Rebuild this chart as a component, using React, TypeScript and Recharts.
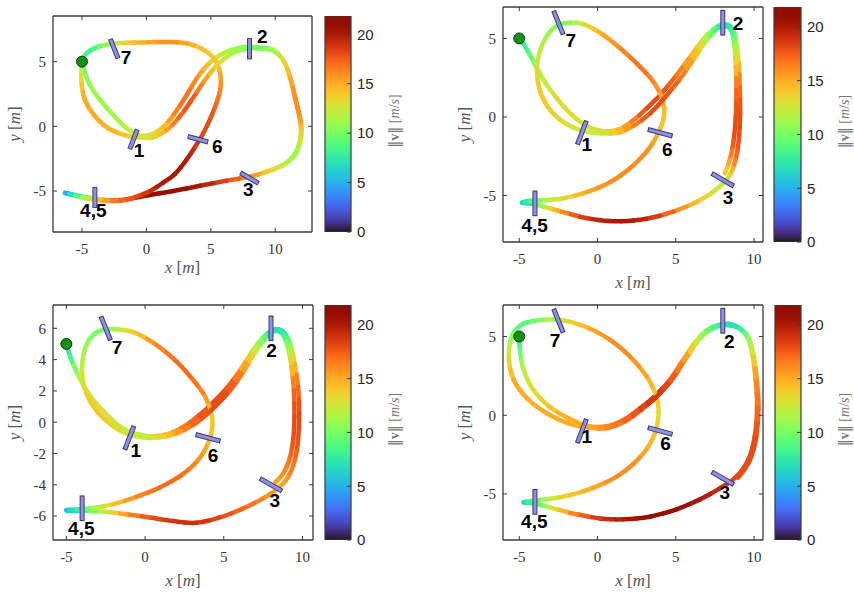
import {
  ComposedChart,
  Line,
  Scatter,
  XAxis,
  YAxis,
  Label,
  BarChart,
  Bar,
} from "recharts";

// x [m], y [m], speed [m/s]
type Pt = [number, number, number];

const V_MAX = 21.85;
const CBAR_TICKS = [0, 5, 10, 15, 20];
const CBAR_DATA = [{ name: "v", v: V_MAX }];

const START: [number, number] = [-5, 5];
const GATE_NAMES = ["1", "2", "3", "4,5", "6", "7"];
const GATE_CENTERS: [number, number][] = [
  [-1, -1],
  [8, 6],
  [8, -4],
  [-4, -5.5],
  [4, -1],
  [-2.5, 6],
];
const GATE_ANGLES = [69, 90, -30, 90, -15, 112];
const GATE_HALF = 0.75;

const X_TICKS = [-5, 0, 5, 10];
const Y_TICKS = [-5, 0, 5];
const Y_TICKS_FINE = [-6, -4, -2, 0, 2, 4, 6];

const TL_LABELS: [number, number][] = [
  [-0.58, -1.88], [8.99, 6.98], [7.9, -4.87], [-4.12, -6.52], [5.5, -1.57], [-1.59, 5.34],
];
const TR_LABELS: [number, number][] = [
  [-0.69, -1.78], [8.98, 5.95], [8.34, -5.11], [-4.02, -6.93], [4.45, -2.1], [-1.71, 4.85],
];
const BL_LABELS: [number, number][] = [
  [-0.59, -1.78], [8.03, 4.61], [8.24, -4.98], [-4.05, -6.79], [4.32, -2.1], [-1.78, 4.78],
];
const BR_LABELS: [number, number][] = [
  [-0.69, -1.36], [8.41, 4.68], [8.13, -4.92], [-4.04, -6.76], [4.35, -1.82], [-2.71, 4.75],
];

const TL_PATH: Pt[] = [
  [-5.03, 5.0, 6], [-4.9, 4.48, 9], [-4.38, 3.2, 11], [-3.6, 2.04, 11], [-2.57, 0.88, 11],
  [-1.53, -0.15, 12], [-0.5, -0.7, 12], [0.4, -0.62, 13], [1.3, -0.05, 14], [2.15, 0.95, 16],
  [3.05, 2.3, 17], [4.0, 3.85, 16], [4.95, 4.95, 14], [6.05, 5.68, 12], [7.1, 6.05, 11],
  [8.0, 6.15, 10], [8.94, 6.08, 10], [9.84, 5.9, 11], [10.62, 5.13, 13], [11.14, 3.84, 15],
  [11.52, 2.29, 16], [11.91, 0.75, 16], [12.04, -0.28, 14], [11.91, -1.31, 12], [11.52, -2.22, 11],
  [10.62, -2.99, 12], [9.33, -3.51, 14], [8.03, -3.89, 16], [6.22, -4.2, 18], [4.15, -4.6, 20],
  [2.09, -5.0, 21], [0.02, -5.35, 21], [-1.6, -5.65, 19], [-2.9, -5.72, 17], [-4.0, -5.58, 13],
  [-5.0, -5.42, 9], [-5.7, -5.28, 6], [-6.32, -5.15, 4], [-5.5, -5.36, 8], [-4.5, -5.6, 12],
  [-3.3, -5.75, 15], [-2.0, -5.75, 17], [-0.8, -5.45, 18], [0.3, -5.0, 19], [1.3, -4.35, 20],
  [2.2, -3.7, 20], [3.1, -2.6, 20], [3.8, -1.55, 19], [4.4, -0.55, 18], [5.0, 0.7, 18],
  [5.5, 2.0, 17], [5.76, 3.1, 16], [5.68, 4.3, 15], [5.2, 5.3, 14], [4.3, 6.0, 14],
  [3.1, 6.42, 15], [1.57, 6.52, 16], [-0.24, 6.49, 15], [-1.53, 6.47, 14], [-2.57, 6.39, 12],
  [-3.6, 6.21, 10], [-4.38, 5.85, 8], [-4.84, 5.39, 8], [-5.03, 4.61, 11], [-5.03, 3.32, 14],
  [-4.77, 2.04, 15], [-4.07, 0.88, 15], [-2.96, -0.15, 15], [-1.41, -0.75, 14], [-0.24, -0.88, 13],
  [0.55, -0.85, 13], [1.55, -0.3, 15], [2.5, 0.65, 17], [3.45, 1.95, 18], [4.45, 3.45, 16],
  [5.35, 4.6, 14], [6.35, 5.45, 12], [7.3, 5.9, 11], [8.15, 6.04, 10], [8.99, 6.0, 10],
  [9.9, 5.82, 11], [10.67, 5.03, 13], [11.16, 3.74, 15], [11.55, 2.19, 16], [11.89, 0.64, 16],
  [11.99, -0.34, 14], [11.84, -1.37, 12], [11.4, -2.29, 11], [10.49, -3.04, 12], [9.2, -3.56, 14],
];

const TR_PATH: Pt[] = [
  [-5, 5, 6], [-4.62, 4.47, 8], [-4.09, 3.52, 10], [-3.45, 2.35, 12], [-2.6, 1.19, 13],
  [-1.64, 0.13, 13], [-0.69, -0.57, 13], [0.27, -0.89, 13], [1.22, -0.83, 14], [2.18, -0.3, 16],
  [3.14, 0.55, 18], [4.09, 1.5, 18], [5.05, 2.67, 17], [6.0, 3.94, 15], [6.75, 4.94, 13],
  [7.39, 5.57, 10], [7.92, 5.87, 8], [8.34, 5.85, 7], [8.66, 5.53, 8], [8.87, 4.68, 11],
  [9.02, 3.41, 14], [9.08, 1.93, 17], [9.11, 0.23, 18], [9.02, -1.46, 18], [8.81, -2.73, 17],
  [8.45, -3.69, 14], [7.92, -4.32, 12], [6.96, -5.06, 13], [5.69, -5.7, 15], [3.99, -6.29, 18],
  [2.29, -6.59, 20], [0.8, -6.63, 20], [-0.69, -6.44, 19], [-1.96, -6.12, 17], [-3.02, -5.83, 14],
  [-3.87, -5.59, 10], [-4.51, -5.49, 7], [-4.83, -5.45, 6], [-4.3, -5.34, 8], [-3.45, -5.3, 11],
  [-2.17, -5.17, 13], [-0.69, -4.79, 15], [0.8, -4.15, 16], [2.07, -3.26, 16], [3.14, -2.2, 16],
  [3.82, -1.14, 15], [4.24, 0.02, 14], [4.16, 1.08, 15], [3.56, 2.25, 16], [2.5, 3.41, 17],
  [1.33, 4.47, 16], [0.16, 5.36, 15], [-0.9, 5.91, 13], [-1.75, 6.0, 11], [-2.49, 5.85, 10],
  [-3.13, 5.32, 11], [-3.66, 4.26, 12], [-3.87, 2.99, 13], [-3.66, 1.61, 14], [-3.02, 0.44, 14],
  [-2.07, -0.4, 13], [-0.9, -0.89, 12], [0.27, -1.04, 12], [1.33, -1.0, 14], [2.29, -0.57, 16],
  [3.35, 0.23, 18], [4.31, 1.25, 18], [5.26, 2.42, 17], [6.18, 3.73, 15], [6.9, 4.79, 12],
  [7.49, 5.49, 9], [7.98, 5.78, 7], [8.38, 5.7, 7], [8.62, 5.32, 8], [8.75, 4.47, 11],
  [8.83, 3.2, 14], [8.87, 1.72, 17], [8.83, 0.02, 18], [8.7, -1.46, 18], [8.45, -2.73, 16],
  [8.13, -3.58, 13],
];

const BL_PATH: Pt[] = [
  [-5, 5.04, 6], [-4.75, 4.19, 8], [-4.26, 3.01, 11], [-3.52, 1.74, 13], [-2.56, 0.61, 13],
  [-1.5, -0.33, 12], [-0.34, -0.8, 12], [0.72, -0.89, 13], [1.78, -0.63, 15], [2.84, -0.03, 17],
  [4.0, 0.95, 18], [5.17, 2.16, 18], [6.12, 3.44, 16], [6.86, 4.61, 13], [7.5, 5.42, 10],
  [8.03, 5.85, 7], [8.45, 5.94, 7], [8.88, 5.68, 7], [9.24, 4.93, 10], [9.51, 3.76, 14],
  [9.72, 2.27, 17], [9.79, 0.56, 18], [9.72, -1.14, 18], [9.51, -2.42, 17], [9.09, -3.49, 16],
  [8.45, -4.23, 15], [7.5, -4.87, 16], [6.23, -5.51, 17], [4.75, -6.09, 18], [3.26, -6.43, 19],
  [1.78, -6.32, 19], [0.3, -6.09, 18], [-1.19, -5.88, 16], [-2.46, -5.73, 13], [-3.73, -5.66, 9],
  [-4.68, -5.66, 6], [-5, -5.62, 5], [-4.36, -5.58, 7], [-3.31, -5.49, 11], [-2.03, -5.24, 14],
  [-0.55, -4.77, 16], [0.93, -4.17, 17], [2.31, -3.38, 17], [3.37, -2.42, 16], [4.0, -1.36, 15],
  [4.28, -0.18, 14], [4.15, 0.78, 14], [3.69, 1.84, 16], [2.84, 2.95, 17], [1.78, 4.08, 17],
  [0.51, 5.08, 16], [-0.66, 5.72, 14], [-1.82, 5.94, 12], [-2.67, 5.89, 10], [-3.31, 5.57, 10],
  [-3.77, 4.83, 11], [-4.0, 3.65, 12], [-3.9, 2.38, 13], [-3.41, 1.2, 14], [-2.56, 0.18, 14],
  [-1.4, -0.63, 13], [-0.13, -0.97, 12], [0.93, -0.97, 13], [1.99, -0.72, 15], [3.05, -0.18, 17],
  [4.22, 0.78, 18], [5.38, 2.01, 18], [6.29, 3.29, 16], [6.97, 4.44, 13], [7.61, 5.3, 10],
  [8.09, 5.77, 7], [8.52, 5.81, 7], [8.81, 5.51, 8], [9.09, 4.72, 11], [9.3, 3.55, 14],
  [9.45, 2.06, 17], [9.49, 0.35, 18], [9.41, -1.14, 18], [9.19, -2.32, 17], [8.77, -3.28, 16],
  [8.24, -3.87, 15],
];

const BR_PATH: Pt[] = [
  [-5, 5, 6], [-4.96, 4.15, 9], [-4.72, 2.88, 12], [-4.13, 1.65, 13], [-3.13, 0.59, 14],
  [-1.86, -0.19, 15], [-0.69, -0.66, 15], [0.48, -0.72, 16], [1.65, -0.3, 17], [2.71, 0.44, 18],
  [3.67, 1.23, 19], [4.62, 2.25, 18], [5.47, 3.52, 16], [6.22, 4.62, 13], [6.96, 5.38, 10],
  [7.7, 5.72, 8], [8.34, 5.81, 7], [8.98, 5.59, 7], [9.55, 5.0, 10], [9.89, 3.83, 13],
  [10.1, 2.25, 16], [10.19, 0.55, 17], [10.04, -1.36, 18], [9.62, -2.84, 18], [8.87, -3.9, 18],
  [7.81, -4.64, 19], [6.54, -5.34, 20], [5.05, -5.97, 21], [3.35, -6.44, 21], [1.65, -6.61, 20],
  [0.16, -6.55, 19], [-1.32, -6.29, 17], [-2.6, -5.97, 14], [-3.66, -5.68, 10], [-4.41, -5.55, 7],
  [-4.72, -5.53, 6], [-4.09, -5.42, 9], [-3.02, -5.3, 12], [-1.75, -5.06, 14], [-0.26, -4.6, 15],
  [1.22, -3.9, 16], [2.39, -2.99, 16], [3.24, -1.99, 15], [3.73, -0.93, 14], [3.9, 0.23, 13],
  [3.73, 1.29, 14], [3.14, 2.46, 15], [2.07, 3.73, 16], [0.8, 4.79, 16], [-0.69, 5.59, 15],
  [-2.17, 6.02, 13], [-3.45, 6.06, 11], [-4.51, 5.89, 9], [-5.19, 5.47, 9], [-5.57, 4.68, 11],
  [-5.66, 3.52, 13], [-5.36, 2.25, 15], [-4.51, 1.08, 15], [-3.24, 0.13, 15], [-1.86, -0.51, 15],
  [-0.58, -0.78, 15], [0.59, -0.81, 16], [1.76, -0.38, 17], [2.78, 0.34, 18], [3.73, 1.14, 19],
  [4.69, 2.16, 18], [5.54, 3.43, 16], [6.28, 4.53, 13], [7.0, 5.32, 10], [7.75, 5.66, 8],
  [8.38, 5.72, 7], [9.04, 5.51, 7], [9.64, 4.92, 10], [9.98, 3.73, 13], [10.19, 2.14, 16],
  [10.28, 0.44, 17], [10.13, -1.4, 18], [9.72, -2.88, 18], [8.98, -3.96, 18],
];

const SERIF = "'Liberation Serif', 'DejaVu Serif', serif";
const SANS = "'Liberation Sans', Arial, sans-serif";

// turbo colormap (polynomial fit)
const turbo = (t: number) => {
  const x = Math.min(1, Math.max(0, t));
  const r = 0.13572138 + x * (4.6153926 + x * (-42.66032258 + x * (132.13108234 + x * (-152.94239396 + x * 59.28637943))));
  const g = 0.09140261 + x * (2.19418839 + x * (4.84296658 + x * (-14.18503333 + x * (4.27729857 + x * 2.82956604))));
  const b = 0.1066733 + x * (12.64194608 + x * (-60.58204836 + x * (110.36276771 + x * (-89.90310912 + x * 27.34824973))));
  const c = (v: number) => Math.round(255 * Math.min(1, Math.max(0, v)));
  return `rgb(${c(r)},${c(g)},${c(b)})`;
};

type XY = [number, number];
const mix = (a: XY, b: XY, t: number): XY => [a[0] + (b[0] - a[0]) * t, a[1] + (b[1] - a[1]) * t];

// Draws one half of the middle span p1 -> p2 of a 4-point window as a
// Catmull-Rom cubic, so neighbouring coloured pieces share tangents.
const makeSpanCurve = (half: 0 | 1) =>
  // eslint-disable-next-line @typescript-eslint/no-explicit-any
  (ctx: any) => {
    let pts: XY[] = [];
    return {
      areaStart() {},
      areaEnd() {},
      lineStart() {
        pts = [];
      },
      point(x: number, y: number) {
        pts.push([x, y]);
      },
      lineEnd() {
        if (pts.length < 4) return;
        const [p0, p1, p2, p3] = pts;
        const c1: XY = [p1[0] + (p2[0] - p0[0]) / 6, p1[1] + (p2[1] - p0[1]) / 6];
        const c2: XY = [p2[0] - (p3[0] - p1[0]) / 6, p2[1] - (p3[1] - p1[1]) / 6];
        // de Casteljau split at t = 0.5
        const a = mix(p1, c1, 0.5);
        const b = mix(c1, c2, 0.5);
        const c = mix(c2, p2, 0.5);
        const d = mix(a, b, 0.5);
        const e = mix(b, c, 0.5);
        const m = mix(d, e, 0.5);
        if (half === 0) {
          ctx.moveTo(p1[0], p1[1]);
          ctx.bezierCurveTo(a[0], a[1], d[0], d[1], m[0], m[1]);
        } else {
          ctx.moveTo(m[0], m[1]);
          ctx.bezierCurveTo(e[0], e[1], c[0], c[1], p2[0], p2[1]);
        }
      },
    };
  };
const FIRST_HALF = makeSpanCurve(0);
const SECOND_HALF = makeSpanCurve(1);

const toSpans = (path: Pt[]) => {
  const at = (k: number) => path[Math.max(0, Math.min(path.length - 1, k))];
  return path.slice(0, -1).flatMap((p, i) => {
    const pts = [at(i - 1), p, at(i + 1), at(i + 2)].map(([x, y]) => ({ x, y }));
    const v0 = p[2];
    const v1 = path[i + 1][2];
    return [
      { pts, curve: FIRST_HALF, color: turbo((0.75 * v0 + 0.25 * v1) / V_MAX) },
      { pts, curve: SECOND_HALF, color: turbo((0.25 * v0 + 0.75 * v1) / V_MAX) },
    ];
  });
};

const gateEnds = (i: number, half: number) => {
  const [cx, cy] = GATE_CENTERS[i];
  const a = (GATE_ANGLES[i] * Math.PI) / 180;
  return [
    { x: cx - half * Math.cos(a), y: cy - half * Math.sin(a) },
    { x: cx + half * Math.cos(a), y: cy + half * Math.sin(a) },
  ];
};

interface Box {
  L: number;
  T: number;
  W: number;
  H: number;
}
interface Plot {
  l: number;
  r: number;
  t: number;
  b: number;
}
interface Panel {
  box: Box;
  plot: Plot;
  xDomain: [number, number];
  yDomain: [number, number];
  yTicks: number[];
  path: Pt[];
  labels: [number, number][];
  xLabelDy: number;
  cbar: { box: Box; plot: Plot };
}

const PANELS: Panel[] = [
  {
    box: { L: 0, T: 0, W: 320, H: 290 },
    plot: { l: 53, r: 312, t: 16, b: 232 },
    xDomain: [-7.25, 12.85],
    yDomain: [-8.17, 8.53],
    yTicks: Y_TICKS,
    path: TL_PATH,
    labels: TL_LABELS,
    xLabelDy: 41,
    cbar: { box: { L: 320, T: 0, W: 100, H: 250 }, plot: { l: 325, r: 351, t: 16, b: 232 } },
  },
  {
    box: { L: 420, T: 0, W: 350, H: 300 },
    plot: { l: 503, r: 763, t: 7, b: 242 },
    xDomain: [-6.04, 10.57],
    yDomain: [-7.96, 7.0],
    yTicks: Y_TICKS,
    path: TR_PATH,
    labels: TR_LABELS,
    xLabelDy: 46,
    cbar: { box: { L: 770, T: 0, W: 84, H: 250 }, plot: { l: 774, r: 801, t: 7, b: 242 } },
  },
  {
    box: { L: 0, T: 295, W: 320, H: 303 },
    plot: { l: 53, r: 313, t: 305, b: 540 },
    xDomain: [-5.85, 10.67],
    yDomain: [-7.53, 7.49],
    yTicks: Y_TICKS_FINE,
    path: BL_PATH,
    labels: BL_LABELS,
    xLabelDy: 46,
    cbar: { box: { L: 320, T: 295, W: 100, H: 255 }, plot: { l: 325, r: 351, t: 305, b: 540 } },
  },
  {
    box: { L: 420, T: 295, W: 350, H: 303 },
    plot: { l: 503, r: 763, t: 305, b: 540 },
    xDomain: [-6.04, 10.57],
    yDomain: [-7.92, 7.0],
    yTicks: Y_TICKS,
    path: BR_PATH,
    labels: BR_LABELS,
    xLabelDy: 46,
    cbar: { box: { L: 770, T: 295, W: 84, H: 255 }, plot: { l: 775, r: 801, t: 305, b: 540 } },
  },
];

const AXIS_STROKE = "#3a3a3a";
const tickStyle = { fill: "#333", fontSize: 15, fontFamily: SERIF };

// eslint-disable-next-line @typescript-eslint/no-explicit-any
const xAxisLabel = (dy: number) => (props: any) => {
  if (!props.viewBox) return null;
  const { x, y, width } = props.viewBox;
  return (
    <text x={x + width / 2} y={y + dy} textAnchor="middle" fill="#555" fontSize={17} fontFamily={SERIF}>
      <tspan fontStyle="italic">x</tspan> [<tspan fontStyle="italic">m</tspan>]
    </text>
  );
};

// eslint-disable-next-line @typescript-eslint/no-explicit-any
const yAxisLabel = (props: any) => {
  if (!props.viewBox) return null;
  const { x, y, width, height } = props.viewBox;
  const cx = x + width - 39;
  const cy = y + height / 2;
  return (
    <text
      x={cx}
      y={cy}
      transform={`rotate(-90 ${cx} ${cy})`}
      textAnchor="middle"
      dominantBaseline="central"
      fill="#555"
      fontSize={17}
      fontFamily={SERIF}
    >
      <tspan fontStyle="italic">y</tspan> [<tspan fontStyle="italic">m</tspan>]
    </text>
  );
};

// eslint-disable-next-line @typescript-eslint/no-explicit-any
const cbarLabel = (props: any) => {
  if (!props.viewBox) return null;
  const { x, y, height } = props.viewBox;
  const cx = x + 43;
  const cy = y + height / 2 - 3;
  return (
    <text
      x={cx}
      y={cy}
      transform={`rotate(-90 ${cx} ${cy})`}
      textAnchor="middle"
      dominantBaseline="central"
      fill="#777"
      fontSize={14}
      fontFamily={SERIF}
    >
      <tspan fontFamily="'DejaVu Serif', serif">‖</tspan>
      <tspan fontWeight="bold">v</tspan>
      <tspan fontFamily="'DejaVu Serif', serif">‖</tspan> [<tspan fontStyle="italic">m</tspan>/
      <tspan fontStyle="italic">s</tspan>]
    </text>
  );
};

// eslint-disable-next-line @typescript-eslint/no-explicit-any
const StartDot = (props: any) => (
  <circle cx={props.cx} cy={props.cy} r={5.5} fill="#0e930e" stroke="#163816" strokeWidth={1} />
);

// eslint-disable-next-line @typescript-eslint/no-explicit-any
const GateLabel = (props: any) => (
  <text
    x={props.cx}
    y={props.cy}
    textAnchor="middle"
    dominantBaseline="central"
    fontFamily={SANS}
    fontWeight="bold"
    fontSize={19}
    fill="#000"
  >
    {props.payload.name}
  </text>
);

const TrackPanel = ({ p }: { p: Panel }) => {
  const { box, plot } = p;
  const margin = {
    left: plot.l - box.L - 40,
    right: box.L + box.W - plot.r - 1,
    top: plot.t - box.T - 1,
    bottom: box.T + box.H - plot.b - 30,
  };
  const spans = toSpans(p.path);
  const labelData = p.labels.map(([x, y], i) => ({ x, y, name: GATE_NAMES[i] }));
  const startData = [{ x: START[0], y: START[1] }];

  return (
    <div style={{ position: "absolute", left: box.L, top: box.T }}>
      <ComposedChart width={box.W} height={box.H} margin={margin}>
        <XAxis
          xAxisId="b"
          dataKey="x"
          type="number"
          orientation="bottom"
          domain={p.xDomain}
          ticks={X_TICKS}
          interval={0}
          allowDataOverflow
          height={30}
          stroke={AXIS_STROKE}
          axisLine={{ strokeWidth: 1.3 }}
          tickSize={-4}
          tickMargin={15}
          tick={tickStyle}
        >
          <Label content={xAxisLabel(p.xLabelDy)} />
        </XAxis>
        <XAxis
          xAxisId="t"
          dataKey="x"
          type="number"
          orientation="top"
          domain={p.xDomain}
          ticks={X_TICKS}
          interval={0}
          allowDataOverflow
          height={1}
          stroke={AXIS_STROKE}
          axisLine={{ strokeWidth: 1.3 }}
          tickSize={-4}
          tickFormatter={() => ""}
        />
        <YAxis
          yAxisId="l"
          dataKey="y"
          type="number"
          orientation="left"
          domain={p.yDomain}
          ticks={p.yTicks}
          interval={0}
          allowDataOverflow
          width={40}
          stroke={AXIS_STROKE}
          axisLine={{ strokeWidth: 1.3 }}
          tickSize={-4}
          tickMargin={11}
          tick={tickStyle}
        >
          <Label content={yAxisLabel} />
        </YAxis>
        <YAxis
          yAxisId="r"
          dataKey="y"
          type="number"
          orientation="right"
          domain={p.yDomain}
          ticks={p.yTicks}
          interval={0}
          allowDataOverflow
          width={1}
          stroke={AXIS_STROKE}
          axisLine={{ strokeWidth: 1.3 }}
          tickSize={-4}
          tickFormatter={() => ""}
        />

        {spans.map((s, i) => (
          <Line
            key={`seg-${i}`}
            xAxisId="b"
            yAxisId="l"
            data={s.pts}
            dataKey="y"
            type={s.curve}
            stroke={s.color}
            strokeWidth={4.5}
            strokeLinecap="round"
            dot={false}
            activeDot={false}
            isAnimationActive={false}
          />
        ))}

        {GATE_NAMES.map((_, i) => (
          <Line
            key={`gate-edge-${i}`}
            xAxisId="b"
            yAxisId="l"
            data={gateEnds(i, GATE_HALF + 0.07)}
            dataKey="y"
            type="linear"
            stroke="#3c3c74"
            strokeWidth={5}
            dot={false}
            activeDot={false}
            isAnimationActive={false}
          />
        ))}
        {GATE_NAMES.map((_, i) => (
          <Line
            key={`gate-fill-${i}`}
            xAxisId="b"
            yAxisId="l"
            data={gateEnds(i, GATE_HALF)}
            dataKey="y"
            type="linear"
            stroke="#8f8fe4"
            strokeWidth={3}
            dot={false}
            activeDot={false}
            isAnimationActive={false}
          />
        ))}

        <Scatter xAxisId="b" yAxisId="l" data={startData} shape={StartDot} isAnimationActive={false} />
        <Scatter xAxisId="b" yAxisId="l" data={labelData} shape={GateLabel} isAnimationActive={false} />
      </ComposedChart>
    </div>
  );
};

const STOPS = Array.from({ length: 33 }, (_, k) => k / 32);

const Colorbar = ({ id, box, plot }: { id: string; box: Box; plot: Plot }) => {
  const margin = {
    left: plot.l - box.L,
    right: box.L + box.W - plot.r - 40,
    top: plot.t - box.T,
    bottom: box.T + box.H - plot.b,
  };
  return (
    <div style={{ position: "absolute", left: box.L, top: box.T }}>
      <BarChart width={box.W} height={box.H} data={CBAR_DATA} margin={margin} barCategoryGap={0} barGap={0}>
        <defs>
          <linearGradient id={id} x1="0" y1="1" x2="0" y2="0">
            {STOPS.map((t) => (
              <stop key={t} offset={t} stopColor={turbo(t)} />
            ))}
          </linearGradient>
        </defs>
        <XAxis dataKey="name" hide />
        <YAxis
          orientation="right"
          type="number"
          domain={[0, V_MAX]}
          ticks={CBAR_TICKS}
          interval={0}
          allowDataOverflow
          width={40}
          axisLine={false}
          stroke={AXIS_STROKE}
          tickSize={-4}
          tickMargin={10}
          tick={{ fill: "#262626", fontSize: 15, fontFamily: SANS }}
        >
          <Label content={cbarLabel} />
        </YAxis>
        <Bar dataKey="v" fill={`url(#${id})`} stroke={AXIS_STROKE} strokeWidth={1.2} isAnimationActive={false} />
      </BarChart>
    </div>
  );
};

export default function App() {
  return (
    <div style={{ position: "absolute", left: 0, top: 0, width: 854, height: 598, background: "#fff" }}>
      {PANELS.map((p, i) => (
        <TrackPanel key={`panel-${i}`} p={p} />
      ))}
      {PANELS.map((p, i) => (
        <Colorbar key={`cbar-${i}`} id={`turbo-${i}`} box={p.cbar.box} plot={p.cbar.plot} />
      ))}
    </div>
  );
}
